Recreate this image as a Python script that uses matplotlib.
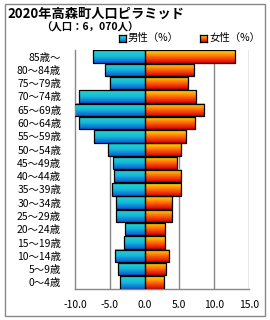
import numpy as np
import matplotlib
matplotlib.use('Agg')
import matplotlib.pyplot as plt
from matplotlib.colors import LinearSegmentedColormap
from matplotlib.patches import Rectangle

plt.rcParams['font.family'] = ['Noto Sans CJK JP', 'DejaVu Sans']

# age groups from bottom (0-4) to top (85+)
ages = ['0～4歳', '5～9歳', '10～14歳', '15～19歳', '20～24歳', '25～29歳',
        '30～34歳', '35～39歳', '40～44歳', '45～49歳', '50～54歳', '55～59歳',
        '60～64歳', '65～69歳', '70～74歳', '75～79歳', '80～84歳', '85歳～']
male = [3.5, 3.8, 4.3, 3.0, 2.8, 4.1, 4.1, 4.7, 4.4, 4.6,
        5.2, 7.3, 9.4, 10.4, 9.4, 5.0, 5.7, 7.4]
female = [2.8, 3.1, 3.5, 2.9, 2.9, 3.9, 3.9, 5.3, 5.3, 4.6,
          5.3, 6.0, 7.3, 8.5, 7.4, 6.2, 7.1, 13.0]
xticks = [-10, -5, 0, 5, 10, 15]

cm_m = LinearSegmentedColormap.from_list('m', ['#0c5ad6', '#16b8d8', '#22d8d0'])
cm_f = LinearSegmentedColormap.from_list('f', ['#d80000', '#ff6a00', '#ffe400'])
grad = np.linspace(0, 1, 64).reshape(-1, 1)

fig = plt.figure(figsize=(2.7, 3.2), dpi=100)
ax = fig.add_axes([75/270, 1-289/320, 174/270, 239/320])

h = 0.94
for i in range(len(ages)):
    y0 = i - h/2
    ax.imshow(grad, cmap=cm_m, origin='lower', aspect='auto',
              extent=[-male[i], 0, y0, y0+h], zorder=2)
    ax.add_patch(Rectangle((-male[i], y0), male[i], h, fill=False,
                           edgecolor='black', lw=0.9, zorder=3))
    ax.imshow(grad, cmap=cm_f, origin='lower', aspect='auto',
              extent=[0, female[i], y0, y0+h], zorder=2)
    ax.add_patch(Rectangle((0, y0), female[i], h, fill=False,
                           edgecolor='black', lw=0.9, zorder=3))

for x in xticks[1:]:
    ax.axvline(x, color='#888888', lw=1, zorder=1)

ax.set_xlim(-10, 15)
ax.set_ylim(-0.5, len(ages)-0.5)
ax.set_xticks(xticks)
ax.set_xticklabels(['%.1f' % v for v in xticks], fontsize=7.5)
ax.set_yticks(range(len(ages)))
ax.set_yticklabels(ages, fontsize=7.5)
ax.tick_params(length=0)
ax.tick_params(axis='x', pad=8)
ax.tick_params(axis='y', pad=10)
for s in ['top', 'right']:
    ax.spines[s].set_visible(False)
for s in ['left', 'bottom']:
    ax.spines[s].set_color('#888888')
    ax.spines[s].set_linewidth(1)

# outer frame
fig.patches.append(Rectangle((5/270, 4/320), 260/270, 312/320, transform=fig.transFigure,
                             fill=False, edgecolor='#888888', lw=1))

fig.text(7/270, 1-14/320, '2020年高森町人口ピラミッド', fontsize=9.5,
         fontweight='bold', va='center', ha='left')
fig.text(90/270, 1-27/320, '（人口：6，070人）', fontsize=7.5,
         fontweight='bold', va='center', ha='center')

# legend
for x0, cm, lab in [(119, cm_m, '男性（%）'), (200, cm_f, '女性（%）')]:
    lax = fig.add_axes([x0/270, 1-42/320, 7/270, 7/320])
    lax.imshow(grad, cmap=cm, origin='lower', aspect='auto', extent=[0, 1, 0, 1])
    lax.set_xticks([])
    lax.set_yticks([])
    for s in lax.spines.values():
        s.set_linewidth(0.9)
    fig.text((x0+9)/270, 1-38/320, lab, fontsize=7.5, va='center', ha='left')

fig.savefig('out.png', dpi=100)
